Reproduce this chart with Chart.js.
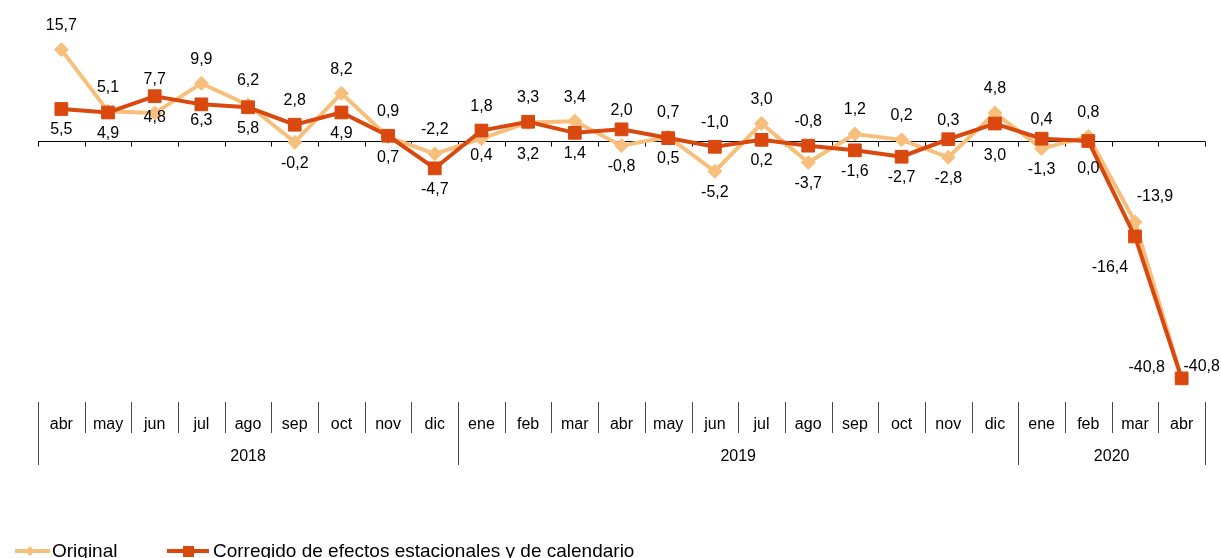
<!DOCTYPE html>
<html>
<head>
<meta charset="utf-8">
<script src="https://cdn.jsdelivr.net/npm/chart.js@4.4.1/dist/chart.umd.min.js"></script>
<style>
  html, body { margin: 0; padding: 0; background: #fff; overflow: hidden; }
  #wrap { width: 1221px; height: 558px; }
</style>
</head>
<body>
<div id="wrap"><canvas id="chart" width="1221" height="558"></canvas></div>
<script>
// Data
const months = ['abr', 'may', 'jun', 'jul', 'ago', 'sep', 'oct', 'nov', 'dic',
                'ene', 'feb', 'mar', 'abr', 'may', 'jun', 'jul', 'ago', 'sep', 'oct', 'nov', 'dic',
                'ene', 'feb', 'mar', 'abr'];
const years = ['2018', '2019', '2020'];
const yearStarts = [0, 9, 21];
const original = [15.7, 5.1, 4.8, 9.9, 6.2, -0.2, 8.2, 0.7, -2.2,
                  0.4, 3.2, 3.4, -0.8, 0.7, -5.2, 3.0, -3.7, 1.2, 0.2, -2.8, 4.8,
                  -1.3, 0.8, -13.9, -40.8];
const corrected = [5.5, 4.9, 7.7, 6.3, 5.8, 2.8, 4.9, 0.9, -4.7,
                   1.8, 3.3, 1.4, 2.0, 0.5, -1.0, 0.2, -0.8, -1.6, -2.7, 0.3, 3.0,
                   0.4, 0.0, -16.4, -40.8];
const seriesNames = ['Original', 'Corregido de efectos estacionales y de calendario'];

const lightColor = '#F6C07C';
const darkColor = '#D9480F';
const fontFamily = '"Liberation Sans", Arial, sans-serif';

// label tweaks (dataset:index -> [dx, dy]) to follow the hand placed labels
const labelNudge = {
    '1:2': [0, 7], '0:2': [0, -16], '1:3': [0, -5],
    '0:9': [0, -4], '0:10': [0, 11], '1:12': [0, 5],
    '1:19': [0, 5], '1:20': [0, 11], '1:21': [0, 5], '1:22': [0, 7],
    '0:23': [20, -1], '1:23': [-25, 10],
    '0:24': [-35, 13], '1:24': [20, -33]
};

function fmt(v) {
    return v.toFixed(1).replace('.', ',');
}

const decorPlugin = {
    id: 'decor',
    beforeDatasetsDraw(chart) {
        const ctx = chart.ctx;
        const x = chart.scales.x;
        const y = chart.scales.y;
        const step = x.getPixelForValue(1) - x.getPixelForValue(0);
        const left = x.getPixelForValue(0) - step / 2;
        const y0 = Math.round(y.getPixelForValue(0)) + 0.5;

        // zero line with tick marks
        ctx.save();
        ctx.strokeStyle = '#000';
        ctx.lineWidth = 1;
        ctx.beginPath();
        ctx.moveTo(left, y0);
        ctx.lineTo(left + step * months.length, y0);
        for (let i = 0; i <= months.length; i++) {
            const px = Math.round(left + i * step) + 0.5;
            ctx.moveTo(px, y0);
            ctx.lineTo(px, y0 + 5);
        }
        ctx.stroke();
        ctx.restore();
    },
    afterDatasetsDraw(chart) {
        const ctx = chart.ctx;
        const x = chart.scales.x;
        const step = x.getPixelForValue(1) - x.getPixelForValue(0);
        const left = x.getPixelForValue(0) - step / 2;
        const top = x.top;

        ctx.save();
        // category separators
        ctx.strokeStyle = '#4a4a4a';
        ctx.lineWidth = 1;
        ctx.beginPath();
        for (let i = 0; i <= months.length; i++) {
            const px = Math.round(left + i * step) + 0.5;
            const isYear = yearStarts.includes(i) || i === months.length;
            ctx.moveTo(px, top + 5);
            ctx.lineTo(px, top + (isYear ? 68 : 36));
        }
        ctx.stroke();

        // year labels
        ctx.fillStyle = '#000';
        ctx.font = '16px ' + fontFamily;
        ctx.textAlign = 'center';
        ctx.textBaseline = 'middle';
        years.forEach((yr, k) => {
            const start = yearStarts[k];
            const end = k + 1 < yearStarts.length ? yearStarts[k + 1] : months.length;
            ctx.fillText(yr, left + step * (start + end) / 2, top + 60);
        });

        // value labels: higher value above, lower below
        const series = [original, corrected];
        for (let i = 0; i < months.length; i++) {
            series.forEach((data, d) => {
                const other = series[1 - d][i];
                const above = data[i] > other || (data[i] === other && d === 0);
                const pt = chart.getDatasetMeta(d).data[i];
                const nudge = labelNudge[d + ':' + i] || [0, 0];
                ctx.fillText(fmt(data[i]), pt.x + nudge[0], pt.y + (above ? -24 : 21) + nudge[1]);
            });
        }

        // legend
        const ly = 551;
        ctx.lineWidth = 4;
        ctx.strokeStyle = lightColor;
        ctx.fillStyle = lightColor;
        ctx.beginPath();
        ctx.moveTo(15, ly);
        ctx.lineTo(50, ly);
        ctx.stroke();
        ctx.beginPath();
        ctx.moveTo(30, ly - 5);
        ctx.lineTo(35, ly);
        ctx.lineTo(30, ly + 5);
        ctx.lineTo(25, ly);
        ctx.closePath();
        ctx.fill();

        ctx.strokeStyle = darkColor;
        ctx.fillStyle = darkColor;
        ctx.beginPath();
        ctx.moveTo(167, ly);
        ctx.lineTo(209, ly);
        ctx.stroke();
        ctx.fillRect(183, ly - 5, 11, 11);

        ctx.fillStyle = '#000';
        ctx.font = '19px ' + fontFamily;
        ctx.textAlign = 'left';
        ctx.textBaseline = 'alphabetic';
        ctx.fillText(seriesNames[0], 52, 557);
        ctx.fillText(seriesNames[1], 213, 557);
        ctx.restore();
    }
};

const chart = new Chart(document.getElementById('chart'), {
    type: 'line',
    data: {
        labels: months,
        datasets: [
            {
                label: seriesNames[0],
                data: original,
                borderColor: lightColor,
                backgroundColor: lightColor,
                borderWidth: 4,
                pointStyle: 'rectRot',
                pointRadius: 7,
                pointBorderWidth: 1,
                tension: 0,
                order: 1
            },
            {
                label: seriesNames[1],
                data: corrected,
                borderColor: darkColor,
                backgroundColor: darkColor,
                borderWidth: 4,
                pointStyle: 'rect',
                pointRadius: 9,
                pointBorderWidth: 1,
                tension: 0,
                order: 0
            }
        ]
    },
    options: {
        responsive: false,
        animation: false,
        events: [],
        layout: { padding: { left: 38, right: 16, top: 13, bottom: 124 } },
        plugins: {
            legend: { display: false },
            tooltip: { enabled: false }
        },
        scales: {
            x: {
                offset: true,
                grid: { display: false, drawTicks: false },
                border: { display: false },
                ticks: {
                    color: '#000',
                    font: { family: fontFamily, size: 16 },
                    padding: 18,
                    maxRotation: 0,
                    autoSkip: false
                },
                afterFit: function(scale) { scale.height = 37; }
            },
            y: { display: false, min: -44, max: 22 }
        }
    },
    plugins: [decorPlugin]
});
</script>
</body>
</html>
